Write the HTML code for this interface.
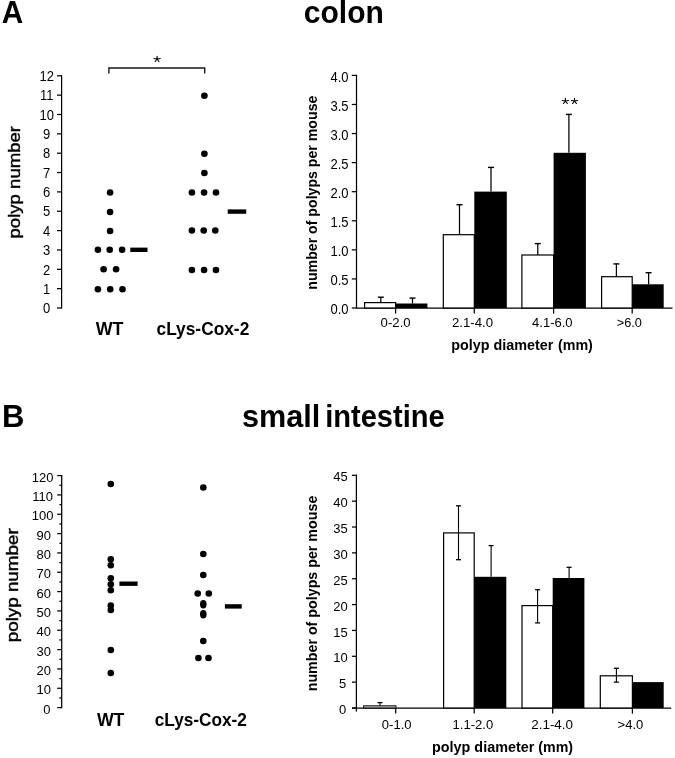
<!DOCTYPE html>
<html><head><meta charset="utf-8"><style>
html,body{margin:0;padding:0;background:#fff;}
body{width:675px;height:758px;overflow:hidden;}
svg{display:block;font-family:"Liberation Sans", sans-serif;filter:grayscale(1);}
text{fill:#000;}
</style></head><body>
<svg width="675" height="758" viewBox="0 0 675 758">
<rect width="675" height="758" fill="#fff"/>
<text transform="translate(1.66,22.60) scale(0.9900,1.0585)" font-size="30" font-weight="bold">A</text>
<text transform="translate(303.75,22.50) scale(1.0013,1.0200)" font-size="30" font-weight="bold">colon</text>
<line x1="61.6" y1="75.19999999999999" x2="61.6" y2="308.6" stroke="#000" stroke-width="1.25"/>
<line x1="57" y1="308.0" x2="61.6" y2="308.0" stroke="#000" stroke-width="1.25"/>
<text transform="translate(46.7,313.2) scale(1.0,1.06)" font-size="13" text-anchor="middle" >0</text>
<line x1="57" y1="288.65" x2="61.6" y2="288.65" stroke="#000" stroke-width="1.25"/>
<text transform="translate(46.7,293.85) scale(1.0,1.06)" font-size="13" text-anchor="middle" >1</text>
<line x1="57" y1="269.3" x2="61.6" y2="269.3" stroke="#000" stroke-width="1.25"/>
<text transform="translate(46.7,274.5) scale(1.0,1.06)" font-size="13" text-anchor="middle" >2</text>
<line x1="57" y1="249.95" x2="61.6" y2="249.95" stroke="#000" stroke-width="1.25"/>
<text transform="translate(46.7,255.15) scale(1.0,1.06)" font-size="13" text-anchor="middle" >3</text>
<line x1="57" y1="230.6" x2="61.6" y2="230.6" stroke="#000" stroke-width="1.25"/>
<text transform="translate(46.7,235.8) scale(1.0,1.06)" font-size="13" text-anchor="middle" >4</text>
<line x1="57" y1="211.25" x2="61.6" y2="211.25" stroke="#000" stroke-width="1.25"/>
<text transform="translate(46.7,216.45) scale(1.0,1.06)" font-size="13" text-anchor="middle" >5</text>
<line x1="57" y1="191.89999999999998" x2="61.6" y2="191.89999999999998" stroke="#000" stroke-width="1.25"/>
<text transform="translate(46.7,197.1) scale(1.0,1.06)" font-size="13" text-anchor="middle" >6</text>
<line x1="57" y1="172.54999999999998" x2="61.6" y2="172.54999999999998" stroke="#000" stroke-width="1.25"/>
<text transform="translate(46.7,177.75) scale(1.0,1.06)" font-size="13" text-anchor="middle" >7</text>
<line x1="57" y1="153.2" x2="61.6" y2="153.2" stroke="#000" stroke-width="1.25"/>
<text transform="translate(46.7,158.4) scale(1.0,1.06)" font-size="13" text-anchor="middle" >8</text>
<line x1="57" y1="133.85" x2="61.6" y2="133.85" stroke="#000" stroke-width="1.25"/>
<text transform="translate(46.7,139.05) scale(1.0,1.06)" font-size="13" text-anchor="middle" >9</text>
<line x1="57" y1="114.5" x2="61.6" y2="114.5" stroke="#000" stroke-width="1.25"/>
<text transform="translate(46.7,119.7) scale(1.0,1.06)" font-size="13" text-anchor="middle" >10</text>
<line x1="57" y1="95.14999999999998" x2="61.6" y2="95.14999999999998" stroke="#000" stroke-width="1.25"/>
<text transform="translate(46.7,100.35) scale(1.0,1.06)" font-size="13" text-anchor="middle" >11</text>
<line x1="57" y1="75.79999999999998" x2="61.6" y2="75.79999999999998" stroke="#000" stroke-width="1.25"/>
<text transform="translate(46.7,81.0) scale(1.0,1.06)" font-size="13" text-anchor="middle" >12</text>
<ellipse cx="110.1" cy="192.5" rx="3.3" ry="3.25"/>
<ellipse cx="110.1" cy="212" rx="3.3" ry="3.25"/>
<ellipse cx="110.1" cy="231" rx="3.3" ry="3.25"/>
<ellipse cx="97.9" cy="249.7" rx="3.3" ry="3.25"/>
<ellipse cx="109.7" cy="249.7" rx="3.3" ry="3.25"/>
<ellipse cx="122.1" cy="249.7" rx="3.3" ry="3.25"/>
<ellipse cx="103.6" cy="269.3" rx="3.3" ry="3.25"/>
<ellipse cx="116.1" cy="269.3" rx="3.3" ry="3.25"/>
<ellipse cx="97.9" cy="289.3" rx="3.3" ry="3.25"/>
<ellipse cx="110.2" cy="289.3" rx="3.3" ry="3.25"/>
<ellipse cx="122.5" cy="289.3" rx="3.3" ry="3.25"/>
<ellipse cx="204.4" cy="95.8" rx="3.3" ry="3.25"/>
<ellipse cx="204.4" cy="153.7" rx="3.3" ry="3.25"/>
<ellipse cx="204.4" cy="173" rx="3.3" ry="3.25"/>
<ellipse cx="191.9" cy="192.5" rx="3.3" ry="3.25"/>
<ellipse cx="204.1" cy="192.5" rx="3.3" ry="3.25"/>
<ellipse cx="216" cy="192.5" rx="3.3" ry="3.25"/>
<ellipse cx="191.9" cy="230.5" rx="3.3" ry="3.25"/>
<ellipse cx="203.7" cy="230.5" rx="3.3" ry="3.25"/>
<ellipse cx="215.3" cy="230.5" rx="3.3" ry="3.25"/>
<ellipse cx="191.9" cy="270" rx="3.3" ry="3.25"/>
<ellipse cx="204.1" cy="270" rx="3.3" ry="3.25"/>
<ellipse cx="216" cy="270" rx="3.3" ry="3.25"/>
<rect x="130.3" y="247.6" width="17.2" height="4.4"/>
<rect x="227.7" y="209.4" width="18.5" height="4.4"/>
<path d="M108.9,73.6 V68 H204.7 V73.6" fill="none" stroke="#1a1a1a" stroke-width="1.4"/>
<path d="M157.1,59.0L157.10,56.40M157.1,59.0L154.00,58.50M157.1,59.0L160.20,58.50M157.1,59.0L155.20,61.50M157.1,59.0L159.00,61.50" stroke="#000" stroke-width="1.15" stroke-linecap="round" fill="none"/>
<text stroke="#000" stroke-width="0.45" transform="translate(20.30,238.46) rotate(-90) scale(1.0045,0.9333)" font-size="18.5">polyp number</text>
<text transform="translate(95.80,335.30) scale(0.9910,1.0000)" font-size="18" font-weight="bold">WT</text>
<text transform="translate(156.53,335.40) scale(1.0201,1.0300)" font-size="17" font-weight="bold">cLys-Cox-2</text>
<line x1="356.5" y1="74.80000000000001" x2="356.5" y2="308.6" stroke="#000" stroke-width="1.25"/>
<line x1="356.5" y1="308.0" x2="672.5" y2="308.0" stroke="#000" stroke-width="1.25"/>
<line x1="351.8" y1="308.0" x2="356.5" y2="308.0" stroke="#000" stroke-width="1.25"/>
<text transform="translate(348.6,314.2) scale(1.0,1.07)" font-size="13" text-anchor="end" >0.0</text>
<line x1="351.8" y1="278.925" x2="356.5" y2="278.925" stroke="#000" stroke-width="1.25"/>
<text transform="translate(348.6,285.12) scale(1.0,1.07)" font-size="13" text-anchor="end" >0.5</text>
<line x1="351.8" y1="249.85" x2="356.5" y2="249.85" stroke="#000" stroke-width="1.25"/>
<text transform="translate(348.6,256.05) scale(1.0,1.07)" font-size="13" text-anchor="end" >1.0</text>
<line x1="351.8" y1="220.775" x2="356.5" y2="220.775" stroke="#000" stroke-width="1.25"/>
<text transform="translate(348.6,226.97) scale(1.0,1.07)" font-size="13" text-anchor="end" >1.5</text>
<line x1="351.8" y1="191.7" x2="356.5" y2="191.7" stroke="#000" stroke-width="1.25"/>
<text transform="translate(348.6,197.9) scale(1.0,1.07)" font-size="13" text-anchor="end" >2.0</text>
<line x1="351.8" y1="162.625" x2="356.5" y2="162.625" stroke="#000" stroke-width="1.25"/>
<text transform="translate(348.6,168.82) scale(1.0,1.07)" font-size="13" text-anchor="end" >2.5</text>
<line x1="351.8" y1="133.55" x2="356.5" y2="133.55" stroke="#000" stroke-width="1.25"/>
<text transform="translate(348.6,139.75) scale(1.0,1.07)" font-size="13" text-anchor="end" >3.0</text>
<line x1="351.8" y1="104.475" x2="356.5" y2="104.475" stroke="#000" stroke-width="1.25"/>
<text transform="translate(348.6,110.67) scale(1.0,1.07)" font-size="13" text-anchor="end" >3.5</text>
<line x1="351.8" y1="75.4" x2="356.5" y2="75.4" stroke="#000" stroke-width="1.25"/>
<text transform="translate(348.6,81.6) scale(1.0,1.07)" font-size="13" text-anchor="end" >4.0</text>
<line x1="395.6" y1="308.0" x2="395.6" y2="313.6" stroke="#000" stroke-width="1.25"/>
<line x1="474.3" y1="308.0" x2="474.3" y2="313.6" stroke="#000" stroke-width="1.25"/>
<line x1="553.6" y1="308.0" x2="553.6" y2="313.6" stroke="#000" stroke-width="1.25"/>
<line x1="632.2" y1="308.0" x2="632.2" y2="313.6" stroke="#000" stroke-width="1.25"/>
<text transform="translate(380.59,327.00) scale(1.0140,1.0400)" font-size="13">0-2.0</text>
<text transform="translate(451.94,327.00) scale(1.0191,1.0400)" font-size="13">2.1-4.0</text>
<text transform="translate(532.05,327.00) scale(1.0038,1.0400)" font-size="13">4.1-6.0</text>
<text transform="translate(616.76,327.00) scale(0.9837,1.0400)" font-size="13">&gt;6.0</text>
<line x1="380.8" y1="297.2" x2="380.8" y2="302.6" stroke="#000" stroke-width="1.25"/>
<line x1="377.8" y1="297.2" x2="383.8" y2="297.2" stroke="#000" stroke-width="1.4"/>
<line x1="412.5" y1="298.1" x2="412.5" y2="303.5" stroke="#000" stroke-width="1.25"/>
<line x1="409.5" y1="298.1" x2="415.5" y2="298.1" stroke="#000" stroke-width="1.4"/>
<rect x="364.6" y="302.6" width="31.0" height="5.4" fill="#fff" stroke="#000" stroke-width="1.2"/>
<rect x="395.6" y="303.5" width="31.8" height="4.5" fill="#000"/>
<line x1="459.5" y1="204.7" x2="459.5" y2="234.7" stroke="#000" stroke-width="1.25"/>
<line x1="456.5" y1="204.7" x2="462.5" y2="204.7" stroke="#000" stroke-width="1.4"/>
<line x1="491.0" y1="167.4" x2="491.0" y2="191.6" stroke="#000" stroke-width="1.25"/>
<line x1="488.0" y1="167.4" x2="494.0" y2="167.4" stroke="#000" stroke-width="1.4"/>
<rect x="443.3" y="234.7" width="31.0" height="73.3" fill="#fff" stroke="#000" stroke-width="1.2"/>
<rect x="474.3" y="191.6" width="32.5" height="116.4" fill="#000"/>
<line x1="537.8" y1="243.6" x2="537.8" y2="255.0" stroke="#000" stroke-width="1.25"/>
<line x1="534.8" y1="243.6" x2="540.8" y2="243.6" stroke="#000" stroke-width="1.4"/>
<line x1="568.9" y1="114.4" x2="568.9" y2="152.8" stroke="#000" stroke-width="1.25"/>
<line x1="565.9" y1="114.4" x2="571.9" y2="114.4" stroke="#000" stroke-width="1.4"/>
<rect x="521.9" y="255.0" width="31.7" height="53.0" fill="#fff" stroke="#000" stroke-width="1.2"/>
<rect x="553.6" y="152.8" width="32.3" height="155.2" fill="#000"/>
<line x1="616.4" y1="263.9" x2="616.4" y2="276.7" stroke="#000" stroke-width="1.25"/>
<line x1="613.4" y1="263.9" x2="619.4" y2="263.9" stroke="#000" stroke-width="1.4"/>
<line x1="648.6" y1="272.7" x2="648.6" y2="284.3" stroke="#000" stroke-width="1.25"/>
<line x1="645.6" y1="272.7" x2="651.6" y2="272.7" stroke="#000" stroke-width="1.4"/>
<rect x="601.6" y="276.7" width="30.6" height="31.3" fill="#fff" stroke="#000" stroke-width="1.2"/>
<rect x="632.2" y="284.3" width="31.5" height="23.7" fill="#000"/>
<path d="M565.4,101.0L565.40,98.40M565.4,101.0L562.30,100.50M565.4,101.0L568.50,100.50M565.4,101.0L563.50,103.50M565.4,101.0L567.30,103.50" stroke="#000" stroke-width="1.15" stroke-linecap="round" fill="none"/>
<path d="M574.5,101.0L574.50,98.40M574.5,101.0L571.40,100.50M574.5,101.0L577.60,100.50M574.5,101.0L572.60,103.50M574.5,101.0L576.40,103.50" stroke="#000" stroke-width="1.15" stroke-linecap="round" fill="none"/>
<text transform="translate(451.31,349.60) scale(0.9912,1.0000)" font-size="14.5" font-weight="bold">polyp diameter</text>
<text transform="translate(557.96,349.60) scale(0.9853,1.0000)" font-size="14.5" font-weight="bold">(mm)</text>
<text transform="translate(316.80,289.71) rotate(-90) scale(1.0113,1.0000)" font-size="14" font-weight="bold">number of polyps per mouse</text>
<text transform="translate(2.03,426.70) scale(1.0356,1.0439)" font-size="30" font-weight="bold">B</text>
<text transform="translate(242.08,427.40) scale(1.0204,1.0200)" font-size="30" font-weight="bold">small</text>
<text transform="translate(325.16,427.40) scale(0.9696,1.0200)" font-size="30" font-weight="bold">intestine</text>
<line x1="61.7" y1="475.0" x2="61.7" y2="708.2" stroke="#000" stroke-width="1.25"/>
<line x1="57.2" y1="707.6" x2="61.7" y2="707.6" stroke="#000" stroke-width="1.25"/>
<text transform="translate(46.75,713.8) scale(1.0,0.98)" font-size="13" text-anchor="middle" >0</text>
<line x1="59.4" y1="697.9333333333334" x2="61.7" y2="697.9333333333334" stroke="#000" stroke-width="1.25"/>
<line x1="57.2" y1="688.2666666666667" x2="61.7" y2="688.2666666666667" stroke="#000" stroke-width="1.25"/>
<text transform="translate(43.85,694.47) scale(1.0,0.98)" font-size="13" text-anchor="middle" >10</text>
<line x1="59.4" y1="678.6" x2="61.7" y2="678.6" stroke="#000" stroke-width="1.25"/>
<line x1="57.2" y1="668.9333333333334" x2="61.7" y2="668.9333333333334" stroke="#000" stroke-width="1.25"/>
<text transform="translate(43.85,675.13) scale(1.0,0.98)" font-size="13" text-anchor="middle" >20</text>
<line x1="59.4" y1="659.2666666666667" x2="61.7" y2="659.2666666666667" stroke="#000" stroke-width="1.25"/>
<line x1="57.2" y1="649.6" x2="61.7" y2="649.6" stroke="#000" stroke-width="1.25"/>
<text transform="translate(43.85,655.8) scale(1.0,0.98)" font-size="13" text-anchor="middle" >30</text>
<line x1="59.4" y1="639.9333333333334" x2="61.7" y2="639.9333333333334" stroke="#000" stroke-width="1.25"/>
<line x1="57.2" y1="630.2666666666667" x2="61.7" y2="630.2666666666667" stroke="#000" stroke-width="1.25"/>
<text transform="translate(43.85,636.47) scale(1.0,0.98)" font-size="13" text-anchor="middle" >40</text>
<line x1="59.4" y1="620.6" x2="61.7" y2="620.6" stroke="#000" stroke-width="1.25"/>
<line x1="57.2" y1="610.9333333333334" x2="61.7" y2="610.9333333333334" stroke="#000" stroke-width="1.25"/>
<text transform="translate(43.85,617.13) scale(1.0,0.98)" font-size="13" text-anchor="middle" >50</text>
<line x1="59.4" y1="601.2666666666667" x2="61.7" y2="601.2666666666667" stroke="#000" stroke-width="1.25"/>
<line x1="57.2" y1="591.6" x2="61.7" y2="591.6" stroke="#000" stroke-width="1.25"/>
<text transform="translate(43.85,597.8) scale(1.0,0.98)" font-size="13" text-anchor="middle" >60</text>
<line x1="59.4" y1="581.9333333333334" x2="61.7" y2="581.9333333333334" stroke="#000" stroke-width="1.25"/>
<line x1="57.2" y1="572.2666666666667" x2="61.7" y2="572.2666666666667" stroke="#000" stroke-width="1.25"/>
<text transform="translate(43.85,578.47) scale(1.0,0.98)" font-size="13" text-anchor="middle" >70</text>
<line x1="59.4" y1="562.6" x2="61.7" y2="562.6" stroke="#000" stroke-width="1.25"/>
<line x1="57.2" y1="552.9333333333334" x2="61.7" y2="552.9333333333334" stroke="#000" stroke-width="1.25"/>
<text transform="translate(43.85,559.13) scale(1.0,0.98)" font-size="13" text-anchor="middle" >80</text>
<line x1="59.4" y1="543.2666666666667" x2="61.7" y2="543.2666666666667" stroke="#000" stroke-width="1.25"/>
<line x1="57.2" y1="533.6" x2="61.7" y2="533.6" stroke="#000" stroke-width="1.25"/>
<text transform="translate(43.85,539.8) scale(1.0,0.98)" font-size="13" text-anchor="middle" >90</text>
<line x1="59.4" y1="523.9333333333334" x2="61.7" y2="523.9333333333334" stroke="#000" stroke-width="1.25"/>
<line x1="57.2" y1="514.2666666666667" x2="61.7" y2="514.2666666666667" stroke="#000" stroke-width="1.25"/>
<text transform="translate(42.65,520.47) scale(1.0,0.98)" font-size="13" text-anchor="middle" >100</text>
<line x1="59.4" y1="504.6" x2="61.7" y2="504.6" stroke="#000" stroke-width="1.25"/>
<line x1="57.2" y1="494.9333333333334" x2="61.7" y2="494.9333333333334" stroke="#000" stroke-width="1.25"/>
<text transform="translate(42.65,501.13) scale(1.0,0.98)" font-size="13" text-anchor="middle" >110</text>
<line x1="59.4" y1="485.26666666666665" x2="61.7" y2="485.26666666666665" stroke="#000" stroke-width="1.25"/>
<line x1="57.2" y1="475.6" x2="61.7" y2="475.6" stroke="#000" stroke-width="1.25"/>
<text transform="translate(42.65,481.8) scale(1.0,0.98)" font-size="13" text-anchor="middle" >120</text>
<ellipse cx="110.8" cy="483.9" rx="3.3" ry="3.25"/>
<ellipse cx="110.8" cy="559.2" rx="3.3" ry="3.25"/>
<ellipse cx="110.8" cy="565.2" rx="3.3" ry="3.25"/>
<ellipse cx="110.8" cy="578.2" rx="3.3" ry="3.25"/>
<ellipse cx="110.8" cy="584.3" rx="3.3" ry="3.25"/>
<ellipse cx="110.8" cy="590.2" rx="3.3" ry="3.25"/>
<ellipse cx="110.8" cy="605.4" rx="3.3" ry="3.25"/>
<ellipse cx="110.8" cy="610" rx="3.3" ry="3.25"/>
<ellipse cx="110.8" cy="650" rx="3.3" ry="3.25"/>
<ellipse cx="110.8" cy="672.9" rx="3.3" ry="3.25"/>
<ellipse cx="203.3" cy="487.5" rx="3.3" ry="3.25"/>
<ellipse cx="203.3" cy="553.9" rx="3.3" ry="3.25"/>
<ellipse cx="203.3" cy="574.9" rx="3.3" ry="3.25"/>
<ellipse cx="197.7" cy="593.5" rx="3.3" ry="3.25"/>
<ellipse cx="208.8" cy="593.5" rx="3.3" ry="3.25"/>
<ellipse cx="203.3" cy="640.9" rx="3.3" ry="3.25"/>
<ellipse cx="198.4" cy="658" rx="3.3" ry="3.25"/>
<ellipse cx="208.5" cy="658" rx="3.3" ry="3.25"/>
<ellipse cx="203.3" cy="604.3" rx="3.3" ry="4.2"/>
<ellipse cx="203.3" cy="614.2" rx="3.3" ry="4.2"/>
<rect x="119.4" y="581.5" width="18.2" height="4.4"/>
<rect x="224.9" y="604.2" width="16.8" height="4.4"/>
<text stroke="#000" stroke-width="0.45" transform="translate(17.90,642.27) rotate(-90) scale(1.0172,0.9333)" font-size="18.5">polyp number</text>
<text transform="translate(96.90,725.80) scale(0.9838,1.0000)" font-size="18" font-weight="bold">WT</text>
<text transform="translate(154.74,725.80) scale(1.0134,1.0300)" font-size="17" font-weight="bold">cLys-Cox-2</text>
<line x1="356.4" y1="474.7" x2="356.4" y2="711.6" stroke="#000" stroke-width="1.25"/>
<line x1="352" y1="708.0" x2="671.2" y2="708.0" stroke="#000" stroke-width="1.25"/>
<line x1="352" y1="708.0" x2="356.4" y2="708.0" stroke="#000" stroke-width="1.25"/>
<text transform="translate(346.2,714.1) scale(1.0,0.99)" font-size="13" text-anchor="end" >0</text>
<line x1="352" y1="682.1444444444444" x2="356.4" y2="682.1444444444444" stroke="#000" stroke-width="1.25"/>
<text transform="translate(346.2,688.24) scale(1.0,0.99)" font-size="13" text-anchor="end" >5</text>
<line x1="352" y1="656.2888888888889" x2="356.4" y2="656.2888888888889" stroke="#000" stroke-width="1.25"/>
<text transform="translate(347.8,662.39) scale(1.0,0.99)" font-size="13" text-anchor="end" >10</text>
<line x1="352" y1="630.4333333333334" x2="356.4" y2="630.4333333333334" stroke="#000" stroke-width="1.25"/>
<text transform="translate(347.8,636.53) scale(1.0,0.99)" font-size="13" text-anchor="end" >15</text>
<line x1="352" y1="604.5777777777778" x2="356.4" y2="604.5777777777778" stroke="#000" stroke-width="1.25"/>
<text transform="translate(347.8,610.68) scale(1.0,0.99)" font-size="13" text-anchor="end" >20</text>
<line x1="352" y1="578.7222222222222" x2="356.4" y2="578.7222222222222" stroke="#000" stroke-width="1.25"/>
<text transform="translate(347.8,584.82) scale(1.0,0.99)" font-size="13" text-anchor="end" >25</text>
<line x1="352" y1="552.8666666666667" x2="356.4" y2="552.8666666666667" stroke="#000" stroke-width="1.25"/>
<text transform="translate(347.8,558.97) scale(1.0,0.99)" font-size="13" text-anchor="end" >30</text>
<line x1="352" y1="527.0111111111112" x2="356.4" y2="527.0111111111112" stroke="#000" stroke-width="1.25"/>
<text transform="translate(347.8,533.11) scale(1.0,0.99)" font-size="13" text-anchor="end" >35</text>
<line x1="352" y1="501.15555555555557" x2="356.4" y2="501.15555555555557" stroke="#000" stroke-width="1.25"/>
<text transform="translate(347.8,507.26) scale(1.0,0.99)" font-size="13" text-anchor="end" >40</text>
<line x1="352" y1="475.29999999999995" x2="356.4" y2="475.29999999999995" stroke="#000" stroke-width="1.25"/>
<text transform="translate(347.8,481.4) scale(1.0,0.99)" font-size="13" text-anchor="end" >45</text>
<line x1="395.7" y1="708.0" x2="395.7" y2="713.6" stroke="#000" stroke-width="1.25"/>
<line x1="474.2" y1="708.0" x2="474.2" y2="713.6" stroke="#000" stroke-width="1.25"/>
<line x1="552.7" y1="708.0" x2="552.7" y2="713.6" stroke="#000" stroke-width="1.25"/>
<line x1="632.4" y1="708.0" x2="632.4" y2="713.6" stroke="#000" stroke-width="1.25"/>
<text transform="translate(381.80,729.00) scale(1.0035,1.0400)" font-size="13">0-1.0</text>
<text transform="translate(452.60,729.00) scale(1.0026,1.0400)" font-size="13">1.1-2.0</text>
<text transform="translate(531.22,729.00) scale(1.0344,1.0400)" font-size="13">2.1-4.0</text>
<text transform="translate(617.55,729.00) scale(1.0041,1.0400)" font-size="13">&gt;4.0</text>
<rect x="363.6" y="705.8" width="32.4" height="2.2" fill="#b8b8b8" stroke="#000" stroke-width="0.9"/>
<line x1="380.0" y1="702.6" x2="380.0" y2="705.8" stroke="#000" stroke-width="1.1"/>
<line x1="377.5" y1="702.6" x2="382.5" y2="702.6" stroke="#000" stroke-width="1.3"/>
<rect x="443.6" y="532.9" width="30.6" height="175.1" fill="#fff" stroke="#000" stroke-width="1.2"/>
<line x1="458.5" y1="505.8" x2="458.5" y2="559.7" stroke="#000" stroke-width="1.1"/>
<line x1="456.0" y1="505.8" x2="461.0" y2="505.8" stroke="#000" stroke-width="1.3"/>
<line x1="456.0" y1="559.7" x2="461.0" y2="559.7" stroke="#000" stroke-width="1.3"/>
<line x1="491.1" y1="545.6" x2="491.1" y2="576.8" stroke="#000" stroke-width="1.1"/>
<line x1="488.6" y1="545.6" x2="493.6" y2="545.6" stroke="#000" stroke-width="1.3"/>
<rect x="474.2" y="576.8" width="32.1" height="131.2" fill="#000"/>
<rect x="522.0" y="605.6" width="30.7" height="102.4" fill="#fff" stroke="#000" stroke-width="1.2"/>
<line x1="537.6" y1="589.7" x2="537.6" y2="622.9" stroke="#000" stroke-width="1.1"/>
<line x1="535.1" y1="589.7" x2="540.1" y2="589.7" stroke="#000" stroke-width="1.3"/>
<line x1="535.1" y1="622.9" x2="540.1" y2="622.9" stroke="#000" stroke-width="1.3"/>
<line x1="569.1" y1="567.3" x2="569.1" y2="578.0" stroke="#000" stroke-width="1.1"/>
<line x1="566.6" y1="567.3" x2="571.6" y2="567.3" stroke="#000" stroke-width="1.3"/>
<rect x="552.7" y="578.0" width="31.7" height="130.0" fill="#000"/>
<rect x="600.3" y="675.8" width="32.1" height="32.2" fill="#fff" stroke="#000" stroke-width="1.2"/>
<line x1="616.4" y1="668.3" x2="616.4" y2="682.1" stroke="#000" stroke-width="1.1"/>
<line x1="613.9" y1="668.3" x2="618.9" y2="668.3" stroke="#000" stroke-width="1.3"/>
<line x1="613.9" y1="682.1" x2="618.9" y2="682.1" stroke="#000" stroke-width="1.3"/>
<rect x="632.4" y="682.1" width="31.3" height="25.9" fill="#000"/>
<text transform="translate(432.01,752.20) scale(0.9922,1.0000)" font-size="14.5" font-weight="bold">polyp diameter</text>
<text transform="translate(538.37,752.20) scale(0.9794,1.0000)" font-size="14.5" font-weight="bold">(mm)</text>
<text transform="translate(316.80,691.32) rotate(-90) scale(1.0186,1.0000)" font-size="14" font-weight="bold">number of polyps per mouse</text>
</svg>
</body></html>
